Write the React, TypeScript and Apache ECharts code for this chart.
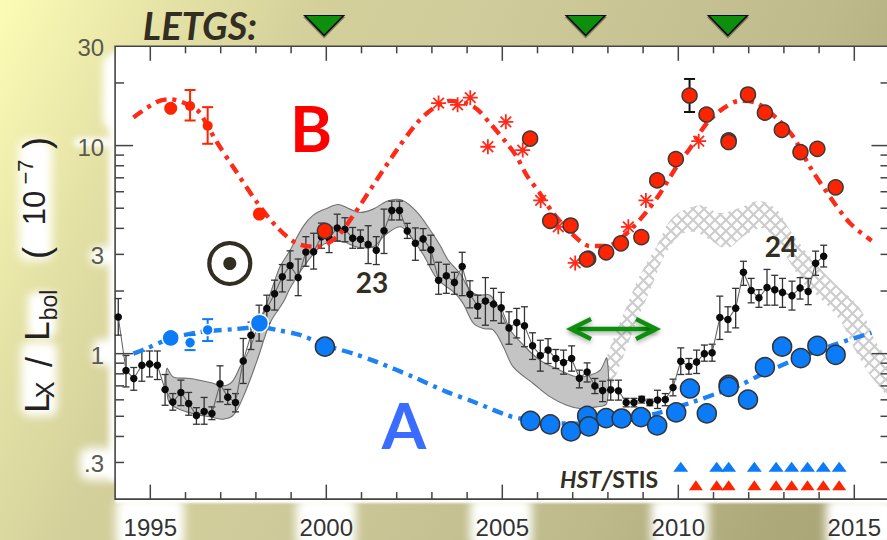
import React, { useEffect, useRef } from "react";
import * as echarts from "echarts";

const xLabels = [1995, 2000, 2005, 2010, 2015];
const xMinorYears = [1996, 1997, 1998, 1999, 2001, 2002, 2003, 2004, 2006, 2007, 2008, 2009, 2011, 2012, 2013, 2014];
const yMajorTicks = [10, 1];
const yMinorTicks = [20, 9, 8, 7, 6, 5, 4, 3, 2, 0.9, 0.8, 0.7, 0.6, 0.5, 0.4, 0.3];
const yTickValues = [30, 10, 3, 1, 0.3];
const yTickLabels = ["30", "10", "3", "1", ".3"];

const blackYears = [1994.09, 1994.31, 1994.53, 1994.76, 1994.98, 1995.2, 1995.42, 1995.64, 1995.87, 1996.09, 1996.31, 1996.53, 1996.75, 1996.98, 1997.2, 1997.42, 1997.64, 1997.86, 1998.09, 1998.31, 1998.53, 1998.75, 1998.97, 1999.2, 1999.42, 1999.64, 1999.86, 2000.08, 2000.31, 2000.53, 2000.75, 2000.97, 2001.19, 2001.42, 2001.64, 2001.86, 2002.08, 2002.3, 2002.53, 2002.75, 2002.97, 2003.19, 2003.41, 2003.64, 2003.86, 2004.08, 2004.3, 2004.52, 2004.75, 2004.97, 2005.19, 2005.41, 2005.63, 2005.86, 2006.08, 2006.3, 2006.52, 2006.74, 2006.97, 2007.19, 2007.41, 2007.63, 2007.85, 2008.08, 2008.3, 2008.52, 2008.74, 2008.96, 2009.19, 2009.41, 2009.63, 2009.85, 2010.07, 2010.3, 2010.52, 2010.74, 2010.96, 2011.18, 2011.41, 2011.63, 2011.85, 2012.07, 2012.29, 2012.52, 2012.74, 2012.96, 2013.23, 2013.46, 2013.69, 2013.9, 2014.13];
const blackVals = [1.5, 0.83, 0.76, 0.88, 0.893, 0.88, 0.673, 0.585, 0.651, 0.576, 0.505, 0.527, 0.516, 0.716, 0.618, 0.583, 0.923, 1.227, 1.45, 1.65, 1.94, 2.34, 2.655, 2.32, 3.08, 3.09, 3.65, 3.59, 4.02, 3.96, 3.59, 3.55, 3.35, 3.14, 3.9, 4.88, 4.88, 3.89, 3.39, 3.56, 3.16, 2.255, 2.37, 2.2, 2.62, 1.93, 1.69, 1.79, 1.73, 1.66, 1.33, 1.41, 1.36, 1.09, 0.98, 1.04, 0.948, 0.907, 0.948, 0.762, 0.817, 0.7, 0.665, 0.67, 0.663, 0.583, 0.583, 0.604, 0.583, 0.598, 0.602, 0.688, 0.92, 0.87, 0.913, 1.0, 1.01, 1.49, 1.46, 1.655, 2.46, 2.01, 1.855, 2.08, 2.03, 1.97, 1.9, 2.07, 1.99, 2.72, 2.94];
const blackHi = [1.84, 0.98, 0.858, 1.03, 1.03, 1.03, 0.794, 0.643, 0.746, 0.651, 0.55, 0.616, 0.555, 0.874, 0.673, 0.643, 1.183, 1.418, 1.71, 1.91, 2.255, 2.68, 3.12, 2.85, 3.65, 3.79, 4.24, 4.05, 4.68, 4.5, 4.04, 3.93, 4.12, 3.65, 4.95, 5.41, 5.41, 4.23, 4.02, 3.99, 3.71, 2.75, 2.69, 2.46, 3.07, 2.24, 1.91, 2.32, 2.06, 1.97, 1.59, 1.65, 1.68, 1.26, 1.16, 1.18, 1.047, 1.04, 1.09, 0.833, 0.903, 0.76, 0.737, 0.746, 0.746, 0.61, 0.61, 0.624, 0.604, 0.667, 0.643, 0.754, 1.066, 0.948, 1.04, 1.1, 1.11, 1.89, 1.68, 2.06, 2.78, 2.3, 2.03, 2.54, 2.38, 2.3, 2.23, 2.32, 2.3, 3.11, 3.32];
const blackLo = [1.227, 0.692, 0.667, 0.737, 0.773, 0.751, 0.565, 0.535, 0.563, 0.506, 0.458, 0.458, 0.482, 0.587, 0.57, 0.525, 0.719, 1.047, 1.149, 1.4, 1.62, 1.98, 2.255, 1.9, 2.63, 2.55, 3.21, 3.06, 3.48, 3.45, 3.21, 3.21, 2.71, 2.68, 3.03, 4.39, 4.39, 3.58, 2.81, 3.14, 2.68, 1.93, 1.95, 1.93, 1.9, 1.66, 1.48, 1.37, 1.44, 1.4, 1.11, 1.19, 1.08, 0.938, 0.824, 0.897, 0.849, 0.797, 0.824, 0.685, 0.731, 0.643, 0.588, 0.598, 0.598, 0.555, 0.555, 0.579, 0.562, 0.545, 0.562, 0.627, 0.794, 0.797, 0.803, 0.92, 0.92, 1.17, 1.27, 1.33, 2.13, 1.755, 1.67, 1.71, 1.71, 1.67, 1.62, 1.83, 1.72, 2.38, 2.61];

const bandUpperYears = [1995.47, 1995.65, 1996.13, 1996.7, 1997.07, 1997.32, 1997.55, 1997.83, 1998.06, 1998.31, 1998.54, 1998.68, 1998.97, 1999.35, 1999.63, 2000.01, 2000.34, 2000.67, 2000.96, 2001.33, 2001.76, 2002.14, 2002.57, 2002.95, 2003.23, 2003.46, 2003.8, 2004.08, 2004.32, 2004.65, 2004.93, 2005.16, 2005.6, 2006.07, 2006.64, 2007.11, 2007.49, 2007.78, 2007.97];
const bandUpperVals = [0.849, 0.773, 0.76, 0.727, 0.7, 0.731, 0.864, 1.06, 1.37, 1.75, 2.255, 2.61, 3.14, 4.1, 4.63, 4.99, 5.21, 4.95, 4.77, 4.95, 5.43, 5.47, 4.8, 3.93, 3.32, 2.82, 2.43, 2.02, 1.91, 1.91, 1.62, 1.34, 1.1, 0.93, 0.833, 0.773, 0.788, 0.833, 0.951];
const bandLowerYears = [1995.47, 1995.56, 1996.03, 1996.79, 1997.07, 1997.36, 1997.64, 1998.02, 1998.4, 1998.78, 1998.97, 1999.35, 1999.82, 2000.11, 2000.48, 2000.86, 2001.33, 2001.67, 2002.09, 2002.33, 2002.76, 2003.14, 2003.66, 2003.89, 2004.18, 2004.46, 2004.74, 2005.03, 2005.31, 2005.88, 2006.36, 2006.83, 2007.21, 2007.68, 2007.97];
const bandLowerVals = [0.667, 0.576, 0.525, 0.493, 0.484, 0.506, 0.62, 0.913, 1.4, 1.77, 2.06, 2.61, 3.26, 3.45, 3.45, 3.26, 3.26, 3.71, 4.07, 3.78, 2.98, 2.3, 1.95, 1.74, 1.4, 1.32, 1.3, 1.08, 0.864, 0.719, 0.62, 0.565, 0.545, 0.555, 0.578];

const hatchUpperYears = [2007.92, 2008.2, 2008.49, 2008.91, 2009.4, 2009.85, 2010.62, 2011.18, 2011.75, 2012.32, 2012.8, 2013.17, 2013.6, 2014.02, 2014.59, 2015.16, 2015.59, 2016];
const hatchUpperVals = [0.88, 1.23, 1.62, 2.38, 3.32, 4.53, 5.17, 4.74, 5.02, 5.41, 4.9, 3.93, 3.14, 2.58, 2.06, 1.65, 1.16, 0.88];
const hatchLowerYears = [2007.97, 2008.34, 2008.77, 2009.2, 2009.62, 2010.05, 2010.48, 2010.9, 2011.38, 2011.9, 2012.41, 2012.75, 2013.17, 2013.6, 2014.02, 2014.59, 2015.02, 2015.45, 2016];
const hatchLowerVals = [0.632, 0.88, 1.37, 2.02, 2.98, 3.71, 3.84, 3.52, 3.21, 3.71, 4.01, 3.52, 2.75, 2.13, 1.85, 1.45, 1.04, 0.788, 0.632];

const redCurveYears = [1994.52, 1995.18, 1995.56, 1996.33, 1996.64, 1996.89, 1997.35, 1998.02, 1998.59, 1999.16, 1999.73, 2000.3, 2000.77, 2001.43, 2002.0, 2002.57, 2003.04, 2003.51, 2004.18, 2004.65, 2005.13, 2005.41, 2005.69, 2006.07, 2006.45, 2007.02, 2007.49, 2007.97, 2008.53, 2009.1, 2009.48, 2009.95, 2010.33, 2010.81, 2011.28, 2011.75, 2012.23, 2012.8, 2013.27, 2013.74, 2014.31, 2014.88, 2015.49];
const redCurveVals = [13.66, 16.2, 16.7, 14.8, 12.3, 10.4, 7.91, 5.37, 4.07, 3.39, 3.26, 3.64, 4.63, 6.83, 9.51, 12.8, 15.1, 16.4, 15.4, 12.8, 10.25, 8.84, 7.21, 5.89, 4.72, 3.71, 3.29, 3.29, 3.78, 4.81, 5.89, 7.91, 9.69, 12.8, 15.1, 16.4, 16.0, 13.5, 11.0, 7.91, 5.67, 4.23, 3.49];
const blueCurveYears = [1994.52, 1994.9, 1995.56, 1996.41, 1997.36, 1998.12, 1998.59, 1999.25, 1999.96, 2000.77, 2001.43, 2002.47, 2003.42, 2004.18, 2005.13, 2005.5, 2006.55, 2007.78, 2008.63, 2009.39, 2010.43, 2011.09, 2011.75, 2012.32, 2013.27, 2014.4, 2015.49];
const blueCurveVals = [1.0, 1.06, 1.18, 1.27, 1.31, 1.34, 1.3, 1.23, 1.1, 1.0, 0.913, 0.773, 0.655, 0.587, 0.506, 0.488, 0.463, 0.461, 0.481, 0.516, 0.587, 0.643, 0.705, 0.788, 0.93, 1.1, 1.26];

const redPlainYears = [1995.58, 1996.13, 1996.63, 1998.1];
const redPlainVals = [15.1, 15.5, 12.45, 4.69];
const redPlainSizes = [13, 10, 10, 13];
const redErrYears = [1996.13, 1996.63];
const redErrHi = [18.5, 15.3];
const redErrLo = [13.2, 10.2];

const redYears = [1999.96, 2005.79, 2006.36, 2006.94, 2007.44, 2007.4, 2007.95, 2008.37, 2008.95, 2009.4, 2009.93, 2010.32, 2010.8, 2011.43, 2011.43, 2011.98, 2012.46, 2012.94, 2013.47, 2013.95, 2014.47];
const redVals = [3.89, 10.8, 4.35, 4.13, 2.86, 2.84, 3.07, 3.39, 3.63, 6.8, 8.61, 17.4, 14.1, 10.6, 10.4, 17.6, 14.4, 11.9, 9.31, 9.65, 6.3];
const redBlackErrYears = [2010.32];
const redBlackErrHi = [20.9];
const redBlackErrLo = [14.5];

const starYears = [2003.19, 2003.73, 2004.09, 2004.59, 2005.1, 2005.58, 2006.09, 2006.59, 2007.07, 2008.58, 2009.08, 2010.58];
const starVals = [16.0, 15.7, 17.0, 9.87, 13.0, 9.51, 5.45, 4.07, 2.73, 4.07, 5.45, 10.5];

const bluePlainYears = [1995.58, 1996.13, 1996.63, 1998.1];
const bluePlainVals = [1.19, 1.13, 1.3, 1.4];
const bluePlainSizes = [17, 11, 11, 18];
const blueErrYears = [1996.13, 1996.63];
const blueErrHi = [1.23, 1.465];
const blueErrLo = [1.04, 1.15];

const blueYears = [1999.96, 2005.8, 2006.36, 2006.95, 2007.41, 2007.46, 2007.95, 2008.39, 2008.94, 2009.4, 2009.94, 2010.33, 2010.81, 2011.43, 2011.43, 2011.98, 2012.46, 2012.95, 2013.48, 2013.95, 2014.47];
const blueVals = [1.08, 0.475, 0.457, 0.423, 0.502, 0.447, 0.49, 0.488, 0.495, 0.452, 0.522, 0.68, 0.516, 0.708, 0.692, 0.602, 0.861, 1.08, 0.951, 1.09, 0.987];

const hstBlueYears = [2010.07, 2011.09, 2011.43, 2012.16, 2012.78, 2013.22, 2013.67, 2014.12, 2014.57];
const hstRedYears = [2010.5, 2011.09, 2011.43, 2012.16, 2012.78, 2013.22, 2013.67, 2014.12, 2014.57];
const hstBlueLevel = 0.286;
const hstRedLevel = 0.233;
const letgsYears = [1999.94, 2007.37, 2011.41];
const letgsLevel = 37.8;

const INK = "#332E22";
const AXIS = "#444";
const STAR = "path://M0 -10V10M-10 0H10M-7.07 -7.07L7.07 7.07M-7.07 7.07L7.07 -7.07";
const SANS = "Liberation Sans";

const PAGE_BG =
  "linear-gradient(115.4deg, #FDFCB5 0%, #E5E2A6 15%, #D4D09B 28%, #D0CC9B 42%, #BEBA8C 73%, #AEA97B 89%, #A9A476 100%)";
// white, blurred patches behind the labels: [left, top, width, height, blur]
const HALOS: number[][] = [
  [109, 52, 20, 430, 3],
  [103, 56, 18, 72, 4],
  [74, 138, 40, 9, 3],
  [90, 247, 30, 18, 4],
  [93, 339, 30, 26, 4],
  [80, 448, 40, 32, 5],
  [19, 140, 33, 120, 5],
  [28, 292, 28, 46, 4],
  [21, 342, 36, 74, 5],
  [116, 498, 68, 50, 5],
  [296, 498, 60, 50, 5],
  [470, 498, 62, 50, 5],
  [651, 498, 58, 50, 5],
  [826, 498, 70, 50, 5],
  [115, 497, 780, 6, 1],
];

const pairs = (xs: number[], ys: number[]) => xs.map((x, i) => [x, ys[i]]);

function hatchTile() {
  const c = document.createElement("canvas");
  c.width = 11;
  c.height = 11;
  const g = c.getContext("2d")!;
  g.strokeStyle = "#cdcdcd";
  g.lineWidth = 2.2;
  g.beginPath();
  g.moveTo(-2, -2);
  g.lineTo(13, 13);
  g.moveTo(-2, 13);
  g.lineTo(13, -2);
  g.stroke();
  return c;
}

function polygonSeries(name: string, upX: number[], upY: number[], loX: number[], loY: number[], style: any, z: number) {
  return {
    type: "custom",
    name,
    z,
    silent: true,
    coordinateSystem: "cartesian2d",
    data: [[upX[0], upY[0]]],
    renderItem: (_p: any, api: any) => {
      const pts = [
        ...pairs(upX, upY).map((d) => api.coord(d)),
        ...pairs(loX, loY).reverse().map((d) => api.coord(d)),
      ];
      return { type: "polygon", shape: { points: pts, smooth: 0.35 }, style };
    },
  };
}

function errorSeries(name: string, xs: number[], hi: number[], lo: number[], color: string, width: number, cap: number, z: number) {
  return {
    type: "custom",
    name,
    z,
    silent: true,
    coordinateSystem: "cartesian2d",
    data: pairs(xs, hi),
    renderItem: (p: any, api: any) => {
      const i = p.dataIndex;
      const a = api.coord([xs[i], hi[i]]);
      const b = api.coord([xs[i], lo[i]]);
      const style = { stroke: color, lineWidth: width, fill: "none" };
      return {
        type: "group",
        children: [
          { type: "line", shape: { x1: a[0], y1: a[1], x2: b[0], y2: b[1] }, style },
          { type: "line", shape: { x1: a[0] - cap, y1: a[1], x2: a[0] + cap, y2: a[1] }, style },
          { type: "line", shape: { x1: b[0] - cap, y1: b[1], x2: b[0] + cap, y2: b[1] }, style },
        ],
      };
    },
  };
}

function ticksSeries() {
  const style = { stroke: AXIS, lineWidth: 1.5, fill: "none" };
  return {
    type: "custom",
    name: "ticks",
    z: 6,
    silent: true,
    coordinateSystem: "cartesian2d",
    data: [[1994, 1]],
    renderItem: (_p: any, api: any) => {
      const kids: any[] = [];
      const vTick = (yr: number, len: number) => {
        const t = api.coord([yr, 30]);
        const b = api.coord([yr, 0.2]);
        kids.push({ type: "line", shape: { x1: t[0], y1: t[1], x2: t[0], y2: t[1] + len }, style });
        kids.push({ type: "line", shape: { x1: b[0], y1: b[1], x2: b[0], y2: b[1] - len }, style });
      };
      xLabels.forEach((y) => vTick(y, 14.5));
      xMinorYears.forEach((y) => vTick(y, 7));
      const hTick = (v: number, len: number) => {
        const l = api.coord([1994, v]);
        const r = api.coord([2016, v]);
        kids.push({ type: "line", shape: { x1: l[0], y1: l[1], x2: l[0] + len, y2: l[1] }, style });
        kids.push({ type: "line", shape: { x1: r[0], y1: r[1], x2: r[0] - len, y2: r[1] }, style });
      };
      yMajorTicks.forEach((v) => hTick(v, 18));
      yMinorTicks.forEach((v) => hTick(v, 9));
      yTickValues.forEach((v, i) => {
        const l = api.coord([1994, v]);
        kids.push({
          type: "text",
          x: l[0] - 11,
          y: l[1] + 1.5,
          style: {
            text: yTickLabels[i],
            fill: "#5a5a50",
            font: `24px "${SANS}"`,
            align: "right",
            verticalAlign: "middle",
          },
        });
      });
      return { type: "group", children: kids };
    },
  };
}

function label(text: string, x: number, y: number, fontSize: number, rot = true, color = "#222") {
  return {
    type: "text",
    z: 20,
    silent: true,
    x,
    y,
    rotation: rot ? Math.PI / 2 : 0,
    style: { text, fill: color, font: `${fontSize}px "${SANS}"`, align: "center", verticalAlign: "middle" },
  };
}

function bold(text: string, x: number, y: number, fontSize: number, color: string, italic = false) {
  return {
    type: "text",
    z: 20,
    silent: true,
    x,
    y,
    style: {
      text,
      fill: color,
      font: `${italic ? "italic " : ""}bold ${fontSize}px Lato`,
      align: "center",
      verticalAlign: "middle",
    },
  };
}

function buildOption(): any {
  const arrowStyle = {
    stroke: "#0A8F0A",
    lineWidth: 4.5,
    fill: "none",
    shadowColor: "rgba(0,0,0,0.35)",
    shadowBlur: 5,
    shadowOffsetY: 2,
  };
  return {
    animation: false,
    grid: {
      show: true,
      left: 115.1,
      top: 46.3,
      width: 774.4,
      height: 452.8,
      backgroundColor: "#fff",
      borderColor: AXIS,
      borderWidth: 1.6,
      containLabel: false,
      outerBoundsMode: "none",
    },
    xAxis: {
      type: "value",
      min: 1994,
      max: 2016,
      interval: 1,
      axisLine: { show: false },
      axisTick: { show: false },
      splitLine: { show: false },
      axisLabel: {
        margin: 16,
        color: "#333",
        fontFamily: SANS,
        fontSize: 24,
        formatter: (v: number) => (xLabels.includes(v) ? String(v) : ""),
      },
    },
    yAxis: {
      type: "log",
      logBase: 10,
      min: 0.2,
      max: 30,
      axisLine: { show: false },
      axisTick: { show: false },
      splitLine: { show: false },
      minorTick: { show: false },
      axisLabel: { show: false },
    },
    graphic: {
      elements: [
        label("L", 36, 403, 35),
        label("X", 45, 390, 25),
        label("/", 39, 362, 36),
        label("L", 36, 331, 35),
        label("bol", 49, 305, 23),
        label("(", 36, 253, 36),
        label("10", 34, 208, 31),
        label("−7", 25, 172, 22),
        label(")", 36, 143, 36),

        bold("LETGS:", 200, 25, 38, INK, true),
        bold("B", 311, 127, 64, "#FF0000"),
        bold("A", 404, 424, 64, "#3A6CFF"),
        bold("23", 372, 282, 28, INK),
        bold("24", 781, 245.5, 28, INK),
        {
          type: "text",
          z: 20,
          silent: true,
          x: 560,
          y: 479,
          style: {
            text: "{i|HST}{s|/}{b|STIS}",
            fill: INK,
            verticalAlign: "middle",
            align: "left",
            rich: {
              i: { font: "italic bold 23px Lato", fill: INK },
              s: { font: "italic bold 26px Lato", fill: INK },
              b: { font: "bold 23px Lato", fill: INK },
            },
          },
        },

        {
          type: "circle",
          z: 20,
          silent: true,
          shape: { cx: 229.8, cy: 263.5, r: 20.5 },
          style: { stroke: INK, lineWidth: 4.2, fill: "none" },
        },
        { type: "circle", z: 20, silent: true, shape: { cx: 229.8, cy: 263.5, r: 6.5 }, style: { fill: INK } },

        {
          type: "rect",
          z: 20,
          silent: true,
          shape: { x: 572, y: 326.8, width: 83, height: 4.4 },
          style: { fill: "#0A8F0A", shadowColor: "rgba(0,0,0,0.35)", shadowBlur: 5, shadowOffsetY: 2 },
        },
        { type: "polyline", z: 20, silent: true, shape: { points: [[591, 319], [571, 329], [591, 339]] }, style: arrowStyle },
        { type: "polyline", z: 20, silent: true, shape: { points: [[636, 319], [656, 329], [636, 339]] }, style: arrowStyle },
      ],
    },
    series: [
      polygonSeries(
        "hatch",
        hatchUpperYears,
        hatchUpperVals,
        hatchLowerYears,
        hatchLowerVals,
        { fill: { image: hatchTile(), repeat: "repeat", imageWidth: 11, imageHeight: 11 }, stroke: "none" },
        1
      ),
      polygonSeries(
        "cycle 23 band",
        bandUpperYears,
        bandUpperVals,
        bandLowerYears,
        bandLowerVals,
        { fill: "#C4C4C4", stroke: "#707070", lineWidth: 1.1 },
        2
      ),
      errorSeries("black errors", blackYears, blackHi, blackLo, "#333", 1.3, 3.5, 3),
      {
        type: "line",
        name: "X-ray luminosity",
        z: 4,
        data: pairs(blackYears, blackVals),
        symbol: "circle",
        symbolSize: 7.5,
        lineStyle: { color: "#666", width: 1.1 },
        itemStyle: { color: "#0b0b0b" },
        silent: true,
      },
      {
        type: "line",
        name: "B curve",
        z: 5,
        smooth: 0.3,
        showSymbol: false,
        data: pairs(redCurveYears, redCurveVals),
        lineStyle: { color: "#FF2A1A", width: 4.4, type: [11, 6, 4, 6] },
        silent: true,
      },
      {
        type: "line",
        name: "A curve",
        z: 5,
        smooth: 0.3,
        showSymbol: false,
        data: pairs(blueCurveYears, blueCurveVals),
        lineStyle: { color: "#1E82F5", width: 4.4, type: [11, 6, 4, 6] },
        silent: true,
      },
      errorSeries("B early errors", redErrYears, redErrHi, redErrLo, "#FF2400", 2, 5.5, 6),
      errorSeries("A early errors", blueErrYears, blueErrHi, blueErrLo, "#0B7BF7", 2, 5.5, 6),
      errorSeries("B errors", redBlackErrYears, redBlackErrHi, redBlackErrLo, "#111", 2, 5.5, 6),
      {
        type: "scatter",
        name: "B plain",
        z: 7,
        data: pairs(redPlainYears, redPlainVals),
        symbolSize: (_v: any, p: any) => redPlainSizes[p.dataIndex],
        itemStyle: { color: "#FF2400", opacity: 1 },
        silent: true,
      },
      {
        type: "scatter",
        name: "B stars",
        z: 7,
        data: pairs(starYears, starVals),
        symbol: STAR,
        symbolSize: 15,
        itemStyle: { color: "none", borderColor: "#FF2A1A", borderWidth: 1.8, opacity: 1 },
        silent: true,
      },
      {
        type: "scatter",
        name: "B",
        z: 8,
        data: pairs(redYears, redVals),
        symbolSize: 15,
        itemStyle: { color: "#FF2400", borderColor: "#3a3a3a", borderWidth: 1.5, opacity: 1 },
        silent: true,
      },
      {
        type: "scatter",
        name: "A plain",
        z: 8,
        data: pairs(bluePlainYears, bluePlainVals),
        symbolSize: (_v: any, p: any) => bluePlainSizes[p.dataIndex],
        itemStyle: { color: "#0B7BF7", borderColor: "#fff", borderWidth: 1.5, opacity: 1 },
        silent: true,
      },
      {
        type: "scatter",
        name: "A",
        z: 8,
        data: pairs(blueYears, blueVals),
        symbolSize: 19,
        itemStyle: { color: "#0B7BF7", borderColor: "#333", borderWidth: 1.5, opacity: 1 },
        silent: true,
      },
      {
        type: "scatter",
        name: "HST blue",
        z: 8,
        data: hstBlueYears.map((y) => [y, hstBlueLevel]),
        symbol: "triangle",
        symbolSize: [15, 10],
        itemStyle: { color: "#0B7BF7", opacity: 1 },
        silent: true,
      },
      {
        type: "scatter",
        name: "HST red",
        z: 8,
        data: hstRedYears.map((y) => [y, hstRedLevel]),
        symbol: "triangle",
        symbolSize: [14, 10],
        itemStyle: { color: "#FF2400", opacity: 1 },
        silent: true,
      },
      {
        type: "scatter",
        name: "LETGS",
        z: 8,
        clip: false,
        data: letgsYears.map((y) => [y, letgsLevel]),
        symbol: "triangle",
        symbolRotate: 180,
        symbolSize: [39, 20],
        itemStyle: {
          color: "#0A8F0A",
          borderColor: "#111",
          borderWidth: 1.5,
          shadowColor: "rgba(0,0,0,0.35)",
          shadowBlur: 4,
          shadowOffsetY: 2,
          opacity: 1,
        },
        silent: true,
      },
      ticksSeries(),
    ],
  };
}

export default function App() {
  const ref = useRef<HTMLDivElement>(null);
  useEffect(() => {
    const chart = echarts.init(ref.current!, undefined, { renderer: "svg" });
    chart.setOption(buildOption());
    return () => chart.dispose();
  }, []);
  return (
    <div
      style={{
        position: "absolute",
        left: 0,
        top: 0,
        width: 887,
        height: 540,
        overflow: "hidden",
        background: PAGE_BG,
      }}
    >
      {HALOS.map(([x, y, w, h, b], i) => (
        <div
          key={i}
          style={{
            position: "absolute",
            left: x,
            top: y,
            width: w,
            height: h,
            background: "#fff",
            borderRadius: 8,
            filter: `blur(${b}px)`,
          }}
        />
      ))}
      <div ref={ref} style={{ position: "absolute", left: 0, top: 0, width: 887, height: 540 }} />
    </div>
  );
}
